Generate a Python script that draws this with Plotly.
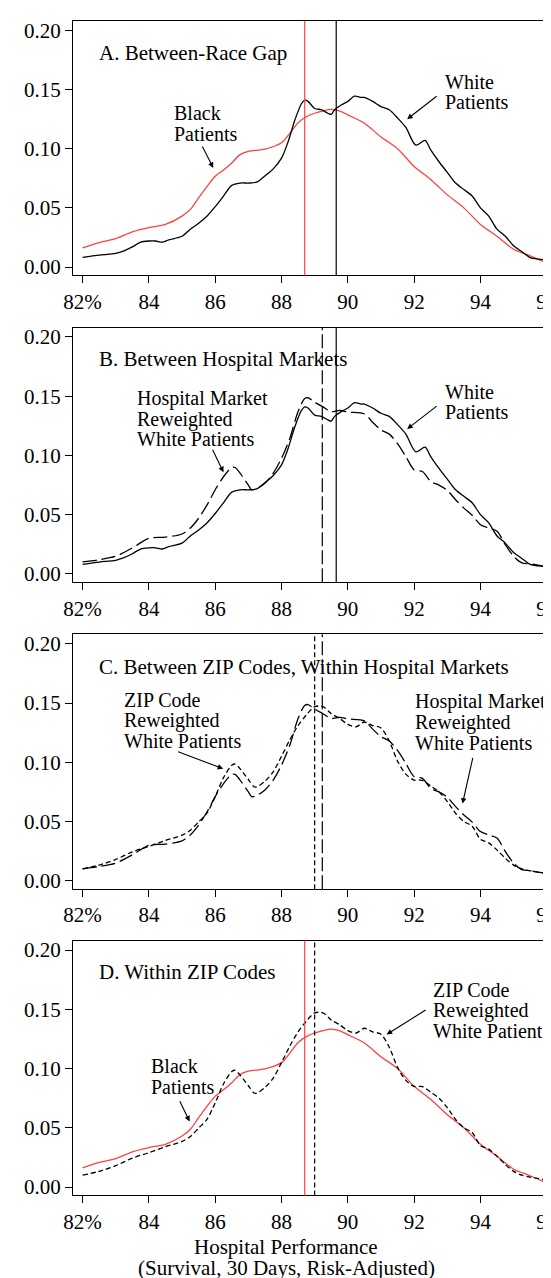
import plotly.graph_objects as go
from plotly.subplots import make_subplots

# ---------------- data ----------------
white_x = [82, 82.5, 83, 83.25, 83.5, 83.75, 84, 84.2, 84.4, 84.6, 85, 85.25, 85.5, 85.75, 86,
           86.25, 86.5, 86.75, 87, 87.25, 87.5, 87.75, 88, 88.2, 88.4, 88.6, 88.7, 88.8, 89.0,
           89.2, 89.4, 89.5, 89.6, 89.8, 90, 90.2, 90.4, 90.5, 90.75, 91, 91.25, 91.5, 91.75,
           92.05, 92.33, 92.5, 92.75, 93, 93.25, 93.5, 93.75, 94, 94.25, 94.5, 94.75, 95, 95.25,
           95.5, 95.75, 96]
white_y = [0.0081, 0.010, 0.0115, 0.0137, 0.017, 0.021, 0.022, 0.022, 0.021, 0.023, 0.026, 0.032,
           0.037, 0.043, 0.051, 0.060, 0.069, 0.071, 0.071, 0.0717, 0.077, 0.083, 0.092, 0.106,
           0.124, 0.138, 0.141, 0.140, 0.134, 0.133, 0.130, 0.129, 0.133, 0.137, 0.140, 0.1445,
           0.1434, 0.1434, 0.140, 0.1356, 0.133, 0.126, 0.118, 0.103, 0.107, 0.099, 0.089, 0.080,
           0.071, 0.0655, 0.060, 0.050, 0.043, 0.032, 0.026, 0.018, 0.013, 0.008, 0.0067, 0.006]

black_x = [82, 82.5, 83, 83.5, 84, 84.5, 85, 85.25, 85.5, 85.75, 86, 86.25, 86.5, 86.75, 87,
           87.5, 88, 88.25, 88.5, 88.75, 89, 89.25, 89.5, 89.75, 90, 90.5, 91, 91.5, 92, 92.5,
           93, 93.5, 94, 94.5, 95, 95.5, 96]
black_y = [0.0162, 0.0207, 0.024, 0.0297, 0.0333, 0.036, 0.043, 0.0487, 0.0585, 0.068, 0.0767,
           0.082, 0.088, 0.095, 0.0978, 0.0997, 0.105, 0.113, 0.122, 0.127, 0.130, 0.132, 0.1333,
           0.132, 0.1286, 0.1216, 0.110, 0.100, 0.085, 0.074, 0.061, 0.050, 0.036, 0.026, 0.015,
           0.0095, 0.0034]

hm_x = [82, 82.5, 83, 83.5, 84, 84.5, 85, 85.25, 85.5, 85.75, 86, 86.25, 86.5, 86.6, 86.75, 87,
        87.1, 87.25, 87.5, 87.75, 88, 88.25, 88.5, 88.7, 88.8, 89.0, 89.25, 89.5, 89.75, 90,
        90.5, 90.75, 91, 91.25, 91.5, 91.75, 92, 92.25, 92.5, 92.75, 93, 93.25, 93.5, 93.75, 94,
        94.25, 94.5, 94.75, 95, 95.25, 95.5, 96]
hm_y = [0.0101, 0.012, 0.0149, 0.0219, 0.030, 0.031, 0.0337, 0.0387, 0.047, 0.058, 0.071, 0.082,
        0.0898, 0.0898, 0.085, 0.075, 0.071, 0.072, 0.0766, 0.085, 0.0976, 0.1144, 0.137, 0.148,
        0.1487, 0.145, 0.141, 0.137, 0.138, 0.1366, 0.135, 0.128, 0.1215, 0.118, 0.110, 0.099,
        0.0878, 0.0864, 0.078, 0.075, 0.0705, 0.0626, 0.0555, 0.0495, 0.0415, 0.0387, 0.036,
        0.0247, 0.0149, 0.0093, 0.0085, 0.006]

zip_x = [82, 82.5, 83, 83.5, 84, 84.5, 85, 85.25, 85.5, 85.75, 86, 86.25, 86.5, 86.6, 86.75, 87,
         87.2, 87.5, 87.75, 88, 88.25, 88.5, 88.75, 89, 89.25, 89.5, 89.75, 90, 90.25, 90.5,
         90.75, 91, 91.25, 91.5, 91.75, 92, 92.25, 92.5, 92.75, 93, 93.25, 93.5, 93.75, 94,
         94.25, 94.5, 94.75, 95, 95.25, 95.5, 96]
zip_y = [0.0100, 0.0132, 0.018, 0.0244, 0.029, 0.034, 0.0385, 0.0426, 0.0497, 0.057, 0.071,
         0.087, 0.0975, 0.0985, 0.0945, 0.0855, 0.079, 0.084, 0.092, 0.105, 0.119, 0.131, 0.140,
         0.147, 0.147, 0.141, 0.137, 0.132, 0.130, 0.134, 0.131, 0.129, 0.118, 0.101, 0.090,
         0.085, 0.0847, 0.080, 0.075, 0.067, 0.057, 0.050, 0.046, 0.035, 0.032, 0.026, 0.019,
         0.0132, 0.010, 0.0084, 0.006]

mean_black = 88.70
mean_white = 89.65
mean_hm = 89.23
mean_zip = 89.00

x_ticks = [82, 84, 86, 88, 90, 92, 94, 96]
x_tick_labels = ["82%", "84", "86", "88", "90", "92", "94", "96"]
y_ticks = [0.0, 0.05, 0.10, 0.15, 0.20]
y_tick_labels = ["0.00", "0.05", "0.10", "0.15", "0.20"]

panel_titles = ["A. Between-Race Gap", "B. Between Hospital Markets",
                "C. Between ZIP Codes, Within Hospital Markets", "D. Within ZIP Codes"]
x_title_lines = ["Hospital Performance", "(Survival, 30 Days, Risk-Adjusted)"]

# ---------------- styling ----------------
W, H = 551, 1278
FONT = "Liberation Serif"
FS = 21
FS_LAB = 20
RED = "#ff4040"
LW = 1.3
series = {
    "white": dict(x=white_x, y=white_y, line=dict(color="black", width=LW), mean=mean_white),
    "black": dict(x=black_x, y=black_y, line=dict(color=RED, width=LW), mean=mean_black),
    "hm": dict(x=hm_x, y=hm_y, line=dict(color="black", width=LW, dash="14px,5px"), mean=mean_hm),
    "zip": dict(x=zip_x, y=zip_y, line=dict(color="black", width=LW, dash="5px,3px"), mean=mean_zip),
}
vline_dash = {"white": "solid", "black": "solid", "hm": "14px,4px", "zip": "5px,3px"}
vline_color = {"white": "black", "black": RED, "hm": "black", "zip": "black"}

panel_series = [["black", "white"], ["hm", "white"], ["zip", "hm"], ["black", "zip"]]

# text labels: (lines, x_left, [y per line])
labels = [
    [(["Black", "Patients"], 84.69, [0.130, 0.1126]),
     (["White", "Patients"], 92.88, [0.156, 0.1395])],
    [(["Hospital Market", "Reweighted", "White Patients"], 83.58, [0.148, 0.1304, 0.1136]),
     (["White", "Patients"], 92.88, [0.1537, 0.1363])],
    [(["ZIP Code", "Reweighted", "White Patients"], 83.18, [0.1529, 0.1352, 0.1178]),
     (["Hospital Market", "Reweighted", "White Patients"], 91.97, [0.1512, 0.1338, 0.1161])],
    [(["ZIP Code", "Reweighted", "White Patients"], 92.52, [0.1666, 0.1492, 0.1316]),
     (["Black", "Patients"], 84.0, [0.1021, 0.0842])],
]
# arrows: head (x, y) and tail offset in px
arrows = [
    [(85.94, 0.0838, -11.6, -23), (91.79, 0.125, 31, -24)],
    [(86.25, 0.0858, -11.6, -24), (91.79, 0.1223, 31, -24)],
    [(86.24, 0.0945, -46.5, -17.7), (93.46, 0.0651, 10.6, -47.3)],
    [(91.17, 0.1288, 40.5, -25.3), (85.23, 0.0553, -10.6, -21.7)],
]
title_pos = [(82.44, 0.1807), (82.44, 0.181), (82.44, 0.1806), (82.44, 0.1815)]

tops = [11, 319, 627.3, 935]
bottoms = [266.7, 575, 883.3, 1191]
x_dom = [57 / W, 549 / W]

fig = make_subplots(rows=4, cols=1)
annotations = []
shapes = []
for i in range(4):
    r = i + 1
    xa = "x" if i == 0 else f"x{r}"
    ya = "y" if i == 0 else f"y{r}"
    for key in panel_series[i]:
        s = series[key]
        fig.add_trace(go.Scatter(x=s["x"], y=s["y"], mode="lines",
                                 line=dict(**s["line"], shape="spline", smoothing=0.8),
                                 showlegend=False, hoverinfo="skip"), row=r, col=1)
        shapes.append(dict(type="line", xref=xa, yref=f"{ya} domain", x0=s["mean"], x1=s["mean"], y0=0, y1=1,
                           line=dict(color=vline_color[key], width=1.2, dash=vline_dash[key])))
    tx, ty = title_pos[i]
    annotations.append(dict(text=panel_titles[i], x=tx, y=ty, xref=xa, yref=ya, showarrow=False,
                            xanchor="left", yanchor="middle", font=dict(family=FONT, size=FS, color="black")))
    for lines, lx, lys in labels[i]:
        for t, ly in zip(lines, lys):
            annotations.append(dict(text=t, x=lx, y=ly, xref=xa, yref=ya, showarrow=False,
                                    xanchor="left", yanchor="middle",
                                    font=dict(family=FONT, size=FS_LAB, color="black")))
    for hx, hy, axo, ayo in arrows[i]:
        annotations.append(dict(text="", x=hx, y=hy, xref=xa, yref=ya, ax=axo, ay=ayo, showarrow=True,
                                arrowhead=2, arrowsize=1, arrowwidth=1.1, arrowcolor="black", standoff=0))
    yd = [1 - bottoms[i] / H, 1 - tops[i] / H]
    axis_common = dict(showline=True, linecolor="black", linewidth=1, mirror=True, ticks="outside",
                       ticklen=7, tickwidth=1, tickcolor="black", showgrid=False, zeroline=False,
                       tickfont=dict(family=FONT, size=FS, color="black"))
    fig.update_xaxes(domain=x_dom, range=[81.71, 96.28], tickvals=x_ticks, ticktext=x_tick_labels,
                     row=r, col=1, **axis_common)
    fig.update_yaxes(domain=yd, range=[-0.0071, 0.208], tickvals=y_ticks, ticktext=y_tick_labels,
                     row=r, col=1, **axis_common)

for t, ypx in zip(x_title_lines, [1243, 1264]):
    annotations.append(dict(text=t, x=274 / W, y=1 - ypx / H, xref="paper", yref="paper", showarrow=False,
                            xanchor="center", yanchor="middle", font=dict(family=FONT, size=FS, color="black")))

fig.update_layout(width=W, height=H, margin=dict(l=0, r=0, t=0, b=0), plot_bgcolor="white",
                  paper_bgcolor="white", annotations=annotations, shapes=shapes, showlegend=False)
fig.write_html("out.html")
